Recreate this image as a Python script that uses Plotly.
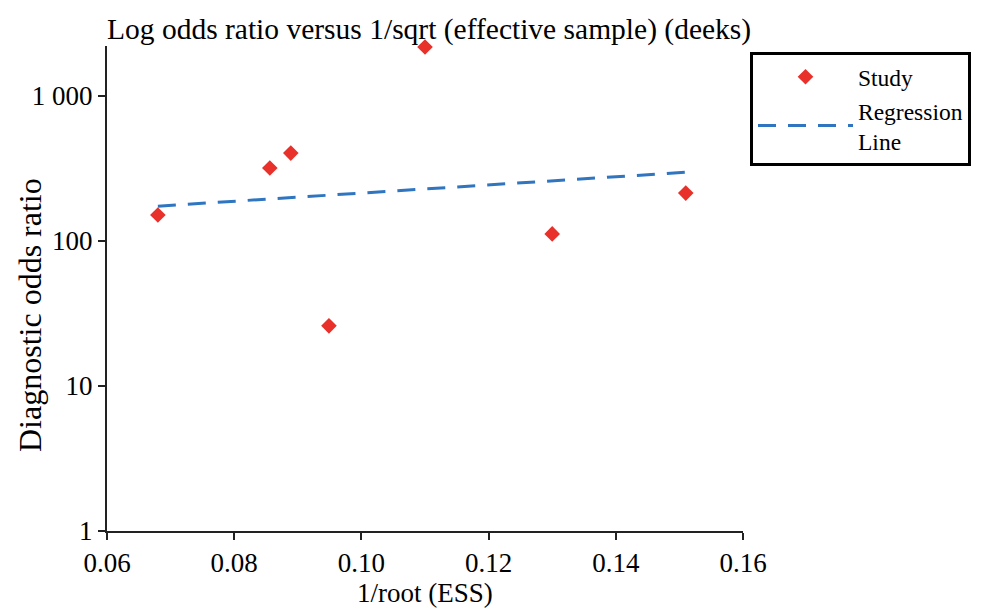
import plotly.graph_objects as go

# Data
study_x = [0.068, 0.0856, 0.0889, 0.0949, 0.110, 0.130, 0.151]
study_y = [151, 319, 404, 26, 2180, 112, 214]
reg_x = [0.068, 0.1515]
reg_y = [174, 299]
x_ticks = [0.06, 0.08, 0.10, 0.12, 0.14, 0.16]
x_tick_labels = ["0.06", "0.08", "0.10", "0.12", "0.14", "0.16"]
y_ticks = [1, 10, 100, 1000]
y_tick_labels = ["1", "10", "100", "1 000"]

FONT = "Liberation Serif, Times New Roman, serif"
OFF = 8  # page body margin
TOP = 531 - 3.345 * 145  # plot top in page px

fig = go.Figure()
fig.add_trace(go.Scatter(
    x=study_x, y=study_y, mode="markers", name="Study", cliponaxis=False,
    marker=dict(symbol="diamond", size=12, color="#e8312a"),
))
fig.add_trace(go.Scatter(
    x=reg_x, y=reg_y, mode="lines", name="Regression<br>Line",
    line=dict(color="#2f75c0", width=3, dash="18px,12px"),
))

fig.update_layout(
    width=981, height=608,
    margin=dict(l=107 - OFF, r=238 + OFF, t=TOP - OFF, b=77 + OFF, autoexpand=False),
    paper_bgcolor="white", plot_bgcolor="white",
    font=dict(family=FONT, size=27, color="black"),
    title=dict(text="Log odds ratio versus 1/sqrt (effective sample) (deeks)",
               x=(107 - OFF) / 981, xanchor="left", xref="container",
               y=1 - (29 - OFF) / 608, yanchor="middle", yref="container",
               font=dict(family=FONT, size=29.5, color="black")),
    xaxis=dict(range=[0.06, 0.16], tickvals=x_ticks, ticktext=x_tick_labels,
               showgrid=False, zeroline=False, showline=True, linecolor="#222",
               linewidth=2, ticks="outside", ticklen=7, tickwidth=2, tickcolor="#222",
               tickfont=dict(size=27), automargin=False,
               title=dict(text="1/root (ESS)", font=dict(size=27), standoff=2)),
    yaxis=dict(type="log", range=[0, 3.345], tickvals=y_ticks, ticktext=y_tick_labels,
               showgrid=False, zeroline=False, showline=True, linecolor="#222",
               linewidth=2, ticks="outside", ticklen=7, tickwidth=2, tickcolor="#222",
               tickfont=dict(size=27), ticklabelstandoff=0, automargin=False),
    annotations=[dict(text="Diagnostic odds ratio", textangle=-90,
                      xref="paper", yref="paper",
                      x=(30 - 107) / 636, y=(531 - 315) / (531 - TOP),
                      xanchor="center", yanchor="middle", showarrow=False,
                      font=dict(family=FONT, size=32, color="black"))],
    legend=dict(x=1.011, y=(531 - 52) / (531 - TOP), xanchor="left", yanchor="top",
                bordercolor="black", borderwidth=3, bgcolor="white",
                font=dict(family=FONT, size=23.5), itemwidth=95,
                tracegroupgap=0),
    showlegend=True,
)

fig.write_html("out.html")
